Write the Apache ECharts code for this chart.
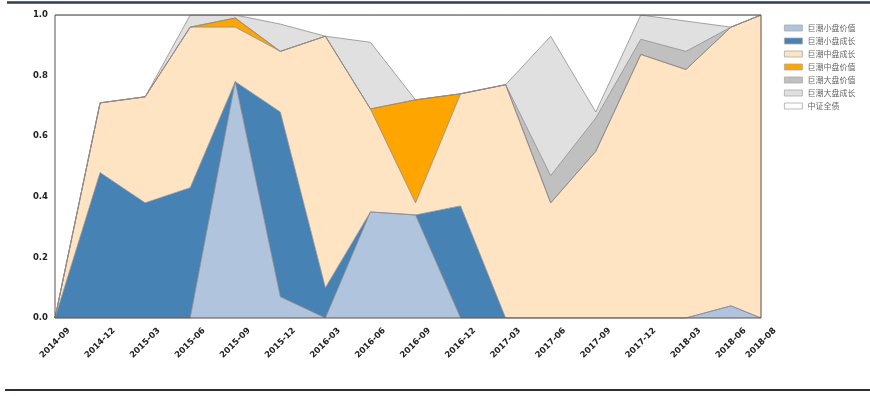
<!DOCTYPE html>
<html>
<head>
<meta charset="utf-8">
<script src="https://cdn.jsdelivr.net/npm/echarts@6/dist/echarts.min.js"></script>
<style>
html,body{margin:0;padding:0;background:#fff;}
#chart{width:870px;height:396px;}
</style>
</head>
<body>
<div id="chart"></div>
<script>
// ---- data ----
var dates = ['2014-09','2014-12','2015-03','2015-06','2015-09','2015-12','2016-03','2016-06','2016-09','2016-12','2017-03','2017-06','2017-09','2017-12','2018-03','2018-06','2018-08'];
var seriesNames = ['巨潮小盘价值','巨潮小盘成长','巨潮中盘成长','巨潮中盘价值','巨潮大盘价值','巨潮大盘成长','中证全债'];
var smallValue  = [0,0,0,0,0.78,0.07,0,0.35,0.34,0,0,0,0,0,0,0.04,0];
var smallGrowth = [0,0.48,0.38,0.43,0,0.61,0.10,0,0,0.37,0,0,0,0,0,0,0];
var midGrowth   = [0,0.23,0.35,0.53,0.18,0.20,0.83,0.34,0.04,0.37,0.77,0.38,0.55,0.87,0.82,0.92,1.0];
var midValue    = [0,0,0,0,0.03,0,0,0,0.34,0,0,0,0,0,0,0,0];
var largeValue  = [0,0,0,0,0,0,0,0,0,0,0,0.09,0.11,0.05,0.06,0,0];
var largeGrowth = [0,0,0,0.04,0.01,0.09,0,0.22,0,0,0,0.46,0.02,0.08,0.10,0,0];
var bond        = [1,0.29,0.27,0,0,0.03,0.07,0.09,0.28,0.26,0.23,0.07,0.32,0,0.02,0.04,0];
var yTicks = [0,0.2,0.4,0.6,0.8,1.0];

// ---- build ----
function monthIndex(s){var p=s.split('-');return (parseInt(p[0],10)-2014)*12+parseInt(p[1],10)-9;}
var xs = dates.map(monthIndex);
var labelMap = {};
dates.forEach(function(d,i){labelMap[xs[i]]=d;});
var colors = ['#b0c4de','#4682b4','#ffe4c4','#ffa500','#c0c0c0','#e0e0e0','#ffffff'];
var allValues = [smallValue,smallGrowth,midGrowth,midValue,largeValue,largeGrowth,bond];

var series = allValues.map(function(vals,k){
  return {
    name: seriesNames[k],
    type: 'line',
    stack: 'total',
    symbol: 'none',
    silent: true,
    encode: {x:1, y:0},
    data: vals.map(function(v,i){return [v, xs[i]];}),
    lineStyle: {color:'#8f8a8a', width:0.8},
    itemStyle: {color: colors[k]},
    areaStyle: {color: colors[k], opacity:1},
    z: 2
  };
});

var chart = echarts.init(document.getElementById('chart'), null, {renderer:'canvas'});
chart.setOption({
  animation:false,
  backgroundColor:'#ffffff',
  grid:{left:55, right:109, top:15, bottom:78, show:true, borderColor:'#5a5050', borderWidth:1, backgroundColor:'transparent', z:3},
  xAxis:{
    type:'value', min:0, max:xs[xs.length-1], interval:3,
    splitLine:{show:false},
    axisLine:{show:false}, axisTick:{show:false},
    axisLabel:{
      showMinLabel:true, showMaxLabel:true,
      rotate:45, align:'center', verticalAlign:'middle', margin:25,
      fontFamily:'DejaVu Sans', fontWeight:'bold', fontSize:8.5, color:'#222',
      formatter:function(v){return labelMap[v]||'';}
    }
  },
  yAxis:{
    type:'value', min:yTicks[0], max:yTicks[yTicks.length-1], interval:0.2,
    splitLine:{show:false},
    axisLine:{show:false}, axisTick:{show:false},
    axisLabel:{margin:7, fontFamily:'DejaVu Sans', fontWeight:'bold', fontSize:8.5, color:'#222',
      formatter:function(v){return v.toFixed(1);}}
  },
  legend:{
    orient:'vertical', left:779, top:18,
    icon:'rect', itemWidth:18, itemHeight:6, itemGap:3,
    itemStyle:{borderColor:'#aaaaaa', borderWidth:0.8},
    textStyle:{fontFamily:'Noto Sans CJK SC', fontSize:8, color:'#666', lineHeight:10},
    data: seriesNames
  },
  graphic:[
    {type:'line', shape:{x1:7,y1:2.5,x2:870,y2:2.5}, style:{stroke:'#2c3e50', lineWidth:2.5}, silent:true},
    {type:'line', shape:{x1:5,y1:390,x2:870,y2:390}, style:{stroke:'#2e2e3c', lineWidth:2}, silent:true}
  ],
  series: series
});
</script>
</body>
</html>
